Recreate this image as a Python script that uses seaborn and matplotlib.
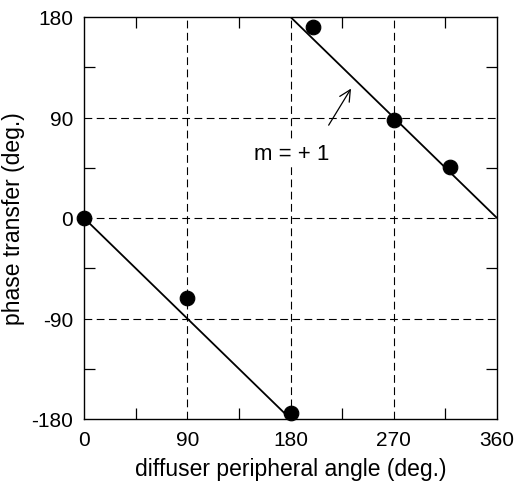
import matplotlib
matplotlib.use("Agg")
import matplotlib.pyplot as plt
import seaborn as sns
import pandas as pd
from matplotlib.ticker import MultipleLocator

sns.set_style("ticks")
plt.rcParams['font.family'] = ['Liberation Sans', 'DejaVu Sans']
plt.rcParams['text.color'] = 'black'
plt.rcParams['axes.labelcolor'] = 'black'
plt.rcParams['xtick.color'] = 'black'
plt.rcParams['ytick.color'] = 'black'

# measured data
angle = [0, 90, 180, 200, 270, 319]
phase = [0, -72, -175, 171, 88, 46]

# m = +1 fit line, two segments
fit_x = [0, 180, 180, 360]
fit_y = [0, -180, 180, 0]
fit_seg = ["a", "a", "b", "b"]

xticks = [0, 90, 180, 270, 360]
yticks = [-180, -90, 0, 90, 180]

pts = pd.DataFrame({"angle": angle, "phase": phase})
fit = pd.DataFrame({"x": fit_x, "y": fit_y, "seg": fit_seg})

fig = plt.figure(figsize=(5.29, 4.85), dpi=100)
ax = fig.add_axes([84/529, 1-420/485, (497-84)/529, (420-18)/485])

for v in [90, 180, 270]:
    ax.axvline(v, color="black", lw=0.8, ls=(0, (7, 4)), zorder=1)
for v in [-90, 0, 90]:
    ax.axhline(v, color="black", lw=0.8, ls=(0, (7, 4)), zorder=1)

sns.lineplot(data=fit, x="x", y="y", units="seg", estimator=None, color="black",
             lw=1.3, ax=ax, sort=False, zorder=2)
sns.scatterplot(data=pts, x="angle", y="phase", color="black", s=110,
                edgecolor="black", ax=ax, zorder=3, clip_on=False)

ax.set_xlim(0, 360)
ax.set_ylim(-180, 180)
ax.set_xticks(xticks)
ax.set_yticks(yticks)
ax.set_xticklabels([str(t) for t in xticks])
ax.set_yticklabels([str(t) for t in yticks])
ax.xaxis.set_minor_locator(MultipleLocator(45))
ax.yaxis.set_minor_locator(MultipleLocator(45))
ax.tick_params(which="both", direction="in", top=True, right=True, labelsize=15,
               colors="black")
ax.tick_params(which="major", length=0, pad=8)
ax.tick_params(which="minor", length=8, width=0.9)
for s in ax.spines.values():
    s.set_linewidth(1.0)
    s.set_color("black")

ax.set_xlabel("diffuser peripheral angle (deg.)", fontsize=16.5, labelpad=6)
ax.set_ylabel("phase transfer (deg.)", fontsize=16.5, labelpad=4)

ax.text(181, 58, "m = + 1", fontsize=16, ha="center", va="center", zorder=4,
        bbox=dict(facecolor="white", edgecolor="none", pad=1))
ax.annotate("", xy=(234, 118), xytext=(212, 81),
            arrowprops=dict(arrowstyle="->", lw=0.9, color="black", mutation_scale=20))

fig.savefig("out.png", dpi=100)
